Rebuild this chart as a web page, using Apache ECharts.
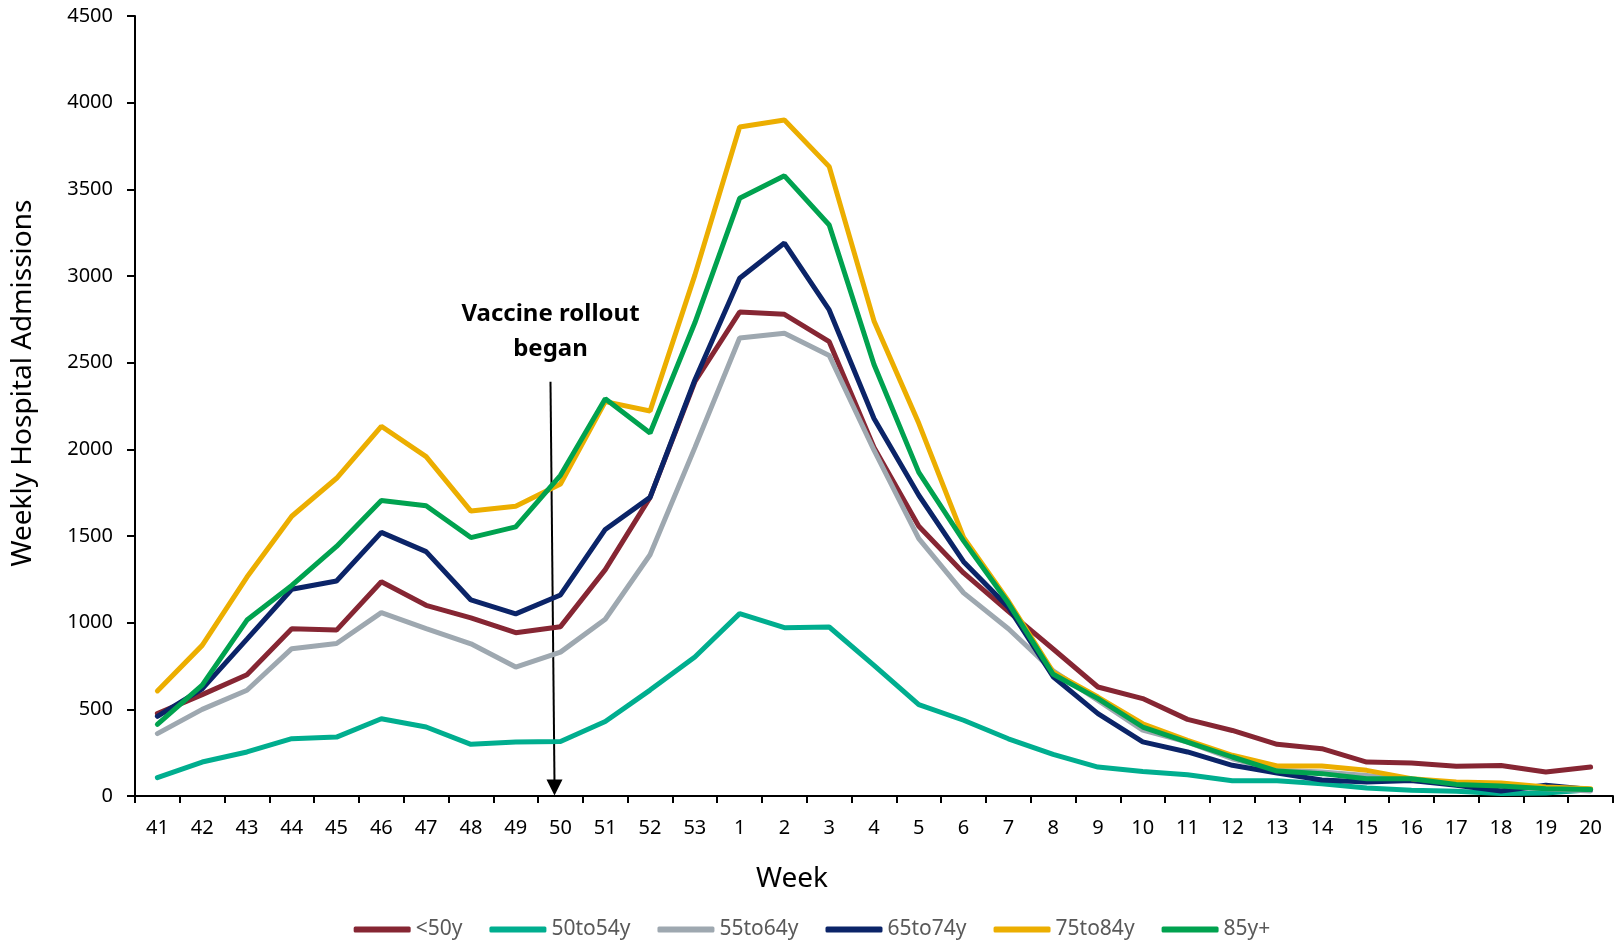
<!DOCTYPE html>
<html>
<head>
<meta charset="utf-8">
<title>Weekly Hospital Admissions</title>
<script src="https://cdn.jsdelivr.net/npm/echarts@6/dist/echarts.min.js"></script>
<style>
  html, body { margin: 0; padding: 0; background: #fff; }
  #chartDiv { width: 1624px; height: 943px; }
</style>
</head>
<body>
<div id="chartDiv"></div>
<script>
// week numbers (season runs from week 41 through week 20 of the next year)
var weeks = ['41','42','43','44','45','46','47','48','49','50','51','52','53',
             '1','2','3','4','5','6','7','8','9','10','11','12','13','14','15','16','17','18','19','20'];

var under50 = [475,585,700,965,957,1236,1100,1028,942,977,1306,1723,2390,
               2792,2779,2621,2011,1556,1287,1065,848,629,562,442,378,298,273,196,190,171,176,138,167];
var age50to54 = [106,196,254,331,340,446,398,298,311,314,430,611,802,
                 1052,971,975,754,527,437,330,240,167,142,123,88,88,71,46,33,27,15,17,36];
var age55to64 = [360,500,610,850,880,1058,966,878,744,830,1020,1392,2010,
                 2642,2670,2542,1995,1485,1172,965,722,552,380,311,215,148,138,119,90,71,52,42,29];
var age65to74 = [460,618,905,1193,1240,1521,1410,1131,1051,1160,1538,1723,2400,
                 2987,3190,2804,2178,1735,1352,1089,688,475,312,254,177,133,92,81,90,62,29,62,37];
var age75to84 = [606,869,1263,1614,1833,2133,1958,1644,1672,1800,2275,2221,3005,
                 3860,3900,3631,2741,2150,1492,1125,715,571,417,321,235,173,173,148,100,81,75,52,42];
var age85plus = [413,640,1015,1215,1440,1705,1675,1491,1553,1850,2292,2094,2730,
                 3448,3578,3294,2489,1867,1472,1113,702,562,398,311,225,144,129,100,100,67,58,42,38];

var seriesNames = ['<50y','50to54y','55to64y','65to74y','75to84y','85y+'];
var seriesColors = ['#862633','#00ae8f','#9ea8b0','#0b2468','#ecae00','#00a24f'];
var seriesData = [under50, age50to54, age55to64, age65to74, age75to84, age85plus];

// where the annotation arrow sits (category + values on the y axis)
var rolloutWeek = '50';
var arrowTopValue = 2390;
var arrowTipValue = 20;
var labelValue = 2680;

var fontFamily = '"Noto Sans", "Open Sans", sans-serif';

var myChart = echarts.init(document.getElementById('chartDiv'));

var series = [];
for (var i = 0; i < seriesNames.length; ++i) {
    series.push({
        name: seriesNames[i],
        type: 'line',
        symbol: 'none',
        data: seriesData[i],
        color: seriesColors[i],
        lineStyle: { width: 5, color: seriesColors[i], cap: 'round' },
        emphasis: { disabled: true }
    });
}

var option = {
    animation: false,
    textStyle: { fontFamily: fontFamily },
    legend: {
        data: seriesNames,
        left: 'center',
        top: 914,
        icon: 'roundRect',
        itemWidth: 57,
        itemHeight: 6,
        itemGap: 27,
        textStyle: { color: '#595959', fontSize: 21, fontFamily: fontFamily }
    },
    grid: {
        left: 135,
        right: 11,
        top: 16,
        bottom: 147
    },
    xAxis: {
        type: 'category',
        boundaryGap: true,
        data: weeks,
        name: 'Week',
        nameLocation: 'middle',
        nameGap: 69,
        nameTextStyle: { color: '#000', fontSize: 28, padding: [0, 164, 0, 0] },
        axisLine: { show: true, lineStyle: { color: '#000', width: 2 } },
        axisTick: { show: true, length: 7, inside: false, lineStyle: { color: '#000', width: 2 } },
        axisLabel: { color: '#000', fontSize: 20, margin: 22, interval: 0 },
        splitLine: { show: false }
    },
    yAxis: {
        type: 'value',
        min: 0,
        max: 4500,
        interval: 500,
        name: 'Weekly Hospital Admissions',
        nameLocation: 'middle',
        nameRotate: 90,
        nameGap: 98,
        nameTextStyle: { color: '#000', fontSize: 28, padding: [0, 0, 0, 46] },
        axisLine: { show: true, lineStyle: { color: '#000', width: 2 } },
        axisTick: { show: true, length: 8, inside: false, lineStyle: { color: '#000', width: 2 } },
        axisLabel: {
            color: '#000',
            fontSize: 20,
            margin: 22,
            formatter: function (v) { return String(v); }
        },
        splitLine: { show: false }
    },
    series: series
};

myChart.setOption(option);

// annotation: vaccine rollout arrow, placed through the chart's own axes
function drawAnnotation() {
    var top = myChart.convertToPixel({ gridIndex: 0 }, [rolloutWeek, arrowTopValue]);
    var tip = myChart.convertToPixel({ gridIndex: 0 }, [rolloutWeek, arrowTipValue]);
    var lbl = myChart.convertToPixel({ gridIndex: 0 }, [rolloutWeek, labelValue]);
    var topX = top[0] - 10, tipX = tip[0] - 6, tipY = tip[1] + 3;
    var headH = 16, headW = 8;
    myChart.setOption({
        graphic: [
            {
                type: 'line',
                shape: { x1: topX, y1: top[1], x2: tipX, y2: tipY - headH + 2 },
                style: { stroke: '#000', lineWidth: 2 },
                silent: true
            },
            {
                type: 'polygon',
                shape: { points: [[tipX - headW, tipY - headH], [tipX + headW, tipY - headH], [tipX, tipY]] },
                style: { fill: '#000' },
                silent: true
            },
            {
                type: 'text',
                x: lbl[0] - 10,
                y: lbl[1],
                style: {
                    text: 'Vaccine rollout\nbegan',
                    fill: '#000',
                    font: 'bold 24px ' + fontFamily,
                    align: 'center',
                    verticalAlign: 'middle',
                    lineHeight: 35
                },
                silent: true
            }
        ]
    });
}
drawAnnotation();

window.addEventListener('resize', function () {
    myChart.resize();
    drawAnnotation();
});
</script>
</body>
</html>
